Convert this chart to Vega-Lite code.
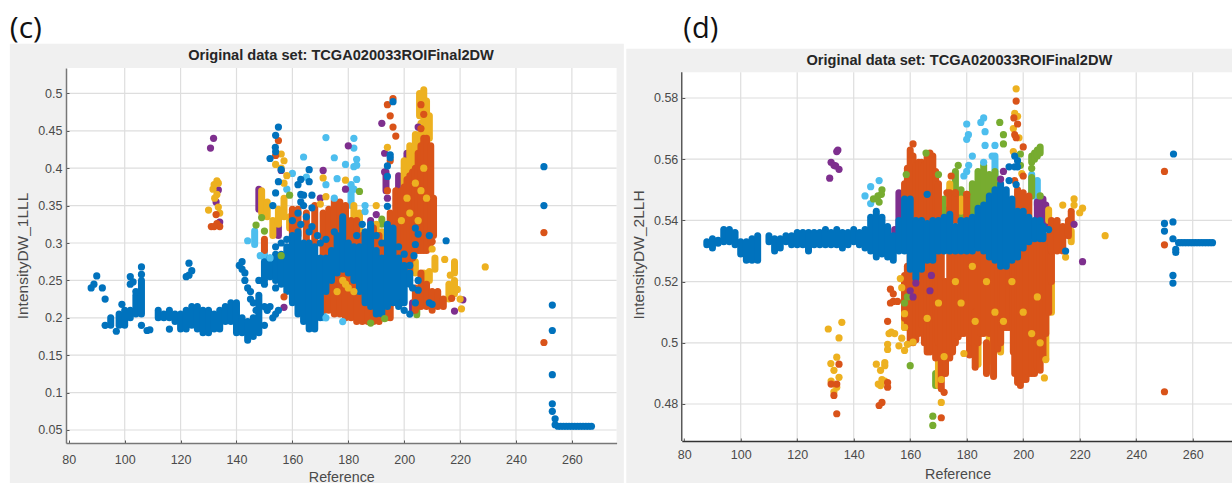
{
"$schema":"https://vega.github.io/schema/vega-lite/v6.json",
"padding":0,
"background":"white",
"spacing":64.8,
"config":{"view":{"stroke":null},"axis":{"grid":false,"labelFont":"Liberation Sans","titleFont":"Liberation Sans","labelFontSize":12.5,"titleFontSize":14.3,"titleFontWeight":"normal","labelColor":"#4a4a4a","titleColor":"#4a4a4a","tickColor":"#555555","tickSize":-3,"labelPadding":7,"domainColor":"#777777","domainWidth":1.5}},
"datasets":{
"cS":[
{"x":181,"lo":0.35,"hi":0.375,"s":"6"},{"x":146.5,"lo":0.298,"hi":0.316,"s":"6"},{"x":150,"lo":0.28,"hi":0.29,"s":"6"},{"x":156,"lo":0.25,"hi":0.27,"s":"6"},{"x":171,"lo":0.2,"hi":0.22,"s":"6"},
{"x":192,"lo":0.325,"hi":0.332,"s":"5"},{"x":204.5,"lo":0.204,"hi":0.212,"s":"5"},
{"x":148,"lo":0.345,"hi":0.372,"s":"4"},{"x":193.5,"lo":0.37,"hi":0.395,"s":"4"},{"x":198,"lo":0.33,"hi":0.39,"s":"4"},{"x":201,"lo":0.38,"hi":0.42,"s":"4"},{"x":188,"lo":0.31,"hi":0.33,"s":"4"},{"x":155,"lo":0.31,"hi":0.33,"s":"4"},{"x":192,"lo":0.2,"hi":0.21,"s":"4"},{"x":203,"lo":0.21,"hi":0.22,"s":"4"},
{"x":149,"lo":0.34,"hi":0.37,"s":"3"},{"x":151,"lo":0.335,"hi":0.355,"s":"3"},{"x":153,"lo":0.31,"hi":0.33,"s":"3"},{"x":155,"lo":0.325,"hi":0.345,"s":"3"},{"x":157,"lo":0.335,"hi":0.36,"s":"3"},{"x":159,"lo":0.32,"hi":0.335,"s":"3"},{"x":182,"lo":0.32,"hi":0.35,"s":"3"},{"x":184,"lo":0.31,"hi":0.34,"s":"3"},{"x":190,"lo":0.295,"hi":0.325,"s":"3"},{"x":192,"lo":0.3,"hi":0.315,"s":"3"},{"x":194,"lo":0.2,"hi":0.215,"s":"3"},{"x":200,"lo":0.36,"hi":0.41,"s":"3"},{"x":202,"lo":0.38,"hi":0.43,"s":"3"},{"x":204,"lo":0.39,"hi":0.445,"s":"3"},{"x":206,"lo":0.4,"hi":0.46,"s":"3"},{"x":207,"lo":0.42,"hi":0.505,"s":"3"},{"x":205.5,"lo":0.47,"hi":0.5,"s":"3"},{"x":208,"lo":0.43,"hi":0.49,"s":"3"},{"x":209,"lo":0.44,"hi":0.47,"s":"3"},{"x":204,"lo":0.26,"hi":0.275,"s":"3"},{"x":207,"lo":0.24,"hi":0.26,"s":"3"},{"x":209,"lo":0.25,"hi":0.262,"s":"3"},{"x":211,"lo":0.265,"hi":0.28,"s":"3"},{"x":218,"lo":0.26,"hi":0.275,"s":"3"},{"x":216,"lo":0.225,"hi":0.245,"s":"3"},{"x":218,"lo":0.232,"hi":0.25,"s":"3"},
{"x":160,"lo":0.3,"hi":0.345,"s":"2"},{"x":162,"lo":0.31,"hi":0.345,"s":"2"},{"x":165,"lo":0.3,"hi":0.34,"s":"2"},{"x":168,"lo":0.3,"hi":0.35,"s":"2"},{"x":171,"lo":0.21,"hi":0.34,"s":"2"},{"x":173,"lo":0.21,"hi":0.345,"s":"2"},{"x":175,"lo":0.205,"hi":0.358,"s":"2"},{"x":177,"lo":0.205,"hi":0.355,"s":"2"},{"x":179,"lo":0.2,"hi":0.35,"s":"2"},{"x":181,"lo":0.2,"hi":0.33,"s":"2"},{"x":183,"lo":0.195,"hi":0.33,"s":"2"},{"x":185,"lo":0.195,"hi":0.31,"s":"2"},{"x":187,"lo":0.195,"hi":0.3,"s":"2"},{"x":189,"lo":0.195,"hi":0.32,"s":"2"},{"x":191,"lo":0.195,"hi":0.31,"s":"2"},{"x":193,"lo":0.2,"hi":0.3,"s":"2"},{"x":195,"lo":0.2,"hi":0.34,"s":"2"},{"x":197,"lo":0.22,"hi":0.37,"s":"2"},{"x":198,"lo":0.24,"hi":0.365,"s":"2"},{"x":199,"lo":0.24,"hi":0.37,"s":"2"},{"x":200,"lo":0.25,"hi":0.375,"s":"2"},{"x":201,"lo":0.25,"hi":0.385,"s":"2"},{"x":202,"lo":0.26,"hi":0.39,"s":"2"},{"x":203,"lo":0.28,"hi":0.395,"s":"2"},{"x":204,"lo":0.29,"hi":0.4,"s":"2"},{"x":205,"lo":0.29,"hi":0.42,"s":"2"},{"x":206,"lo":0.29,"hi":0.43,"s":"2"},{"x":207,"lo":0.29,"hi":0.44,"s":"2"},{"x":208,"lo":0.29,"hi":0.44,"s":"2"},{"x":209.5,"lo":0.3,"hi":0.43,"s":"2"},{"x":210.5,"lo":0.31,"hi":0.36,"s":"2"},{"x":204,"lo":0.21,"hi":0.24,"s":"2"},{"x":206,"lo":0.215,"hi":0.26,"s":"2"},{"x":208,"lo":0.215,"hi":0.245,"s":"2"},{"x":210,"lo":0.21,"hi":0.235,"s":"2"},{"x":212,"lo":0.215,"hi":0.235,"s":"2"},{"x":214,"lo":0.215,"hi":0.225,"s":"2"},{"x":150,"lo":0.29,"hi":0.305,"s":"2"},
{"x":150,"lo":0.25,"hi":0.275,"s":"1"},{"x":152,"lo":0.255,"hi":0.28,"s":"1"},{"x":154,"lo":0.25,"hi":0.285,"s":"1"},{"x":156,"lo":0.245,"hi":0.285,"s":"1"},{"x":158,"lo":0.235,"hi":0.295,"s":"1"},{"x":160,"lo":0.22,"hi":0.31,"s":"1"},{"x":162,"lo":0.205,"hi":0.315,"s":"1"},{"x":164,"lo":0.195,"hi":0.3,"s":"1"},{"x":166,"lo":0.185,"hi":0.3,"s":"1"},{"x":168,"lo":0.185,"hi":0.295,"s":"1"},{"x":170,"lo":0.2,"hi":0.28,"s":"1"},{"x":172,"lo":0.235,"hi":0.28,"s":"1"},{"x":174,"lo":0.25,"hi":0.29,"s":"1"},{"x":176,"lo":0.26,"hi":0.31,"s":"1"},{"x":178,"lo":0.265,"hi":0.335,"s":"1"},{"x":180,"lo":0.26,"hi":0.3,"s":"1"},{"x":182,"lo":0.25,"hi":0.295,"s":"1"},{"x":184,"lo":0.235,"hi":0.295,"s":"1"},{"x":186,"lo":0.22,"hi":0.315,"s":"1"},{"x":188,"lo":0.215,"hi":0.325,"s":"1"},{"x":190,"lo":0.205,"hi":0.29,"s":"1"},{"x":192,"lo":0.205,"hi":0.28,"s":"1"},{"x":194,"lo":0.215,"hi":0.325,"s":"1"},{"x":196,"lo":0.22,"hi":0.32,"s":"1"},{"x":198,"lo":0.215,"hi":0.28,"s":"1"},{"x":200,"lo":0.22,"hi":0.27,"s":"1"},{"x":202,"lo":0.245,"hi":0.26,"s":"1"},
{"x":95,"lo":0.19,"hi":0.2,"s":"1"},{"x":98,"lo":0.19,"hi":0.205,"s":"1"},{"x":100,"lo":0.19,"hi":0.21,"s":"1"},{"x":102,"lo":0.2,"hi":0.21,"s":"1"},{"x":104,"lo":0.205,"hi":0.23,"s":"1"},{"x":106,"lo":0.205,"hi":0.25,"s":"1"},
{"x":112,"lo":0.2,"hi":0.21,"s":"1"},{"x":114,"lo":0.2,"hi":0.205,"s":"1"},{"x":116,"lo":0.2,"hi":0.21,"s":"1"},{"x":118,"lo":0.195,"hi":0.205,"s":"1"},{"x":120,"lo":0.185,"hi":0.205,"s":"1"},{"x":122,"lo":0.185,"hi":0.21,"s":"1"},{"x":124,"lo":0.19,"hi":0.215,"s":"1"},{"x":126,"lo":0.185,"hi":0.215,"s":"1"},{"x":128,"lo":0.18,"hi":0.21,"s":"1"},{"x":130,"lo":0.18,"hi":0.21,"s":"1"},{"x":132,"lo":0.185,"hi":0.205,"s":"1"},{"x":134,"lo":0.185,"hi":0.21,"s":"1"},{"x":136,"lo":0.195,"hi":0.215,"s":"1"},{"x":138,"lo":0.195,"hi":0.22,"s":"1"},{"x":140,"lo":0.18,"hi":0.22,"s":"1"},{"x":142,"lo":0.18,"hi":0.2,"s":"1"},{"x":144,"lo":0.17,"hi":0.195,"s":"1"},{"x":146,"lo":0.175,"hi":0.2,"s":"1"},{"x":148,"lo":0.18,"hi":0.23,"s":"1"}
],
"cP":[
{"x":144,"y":0.303,"s":"6"},{"x":148.5,"y":0.283,"s":"6"},{"x":152,"y":0.28,"s":"6"},{"x":172,"y":0.2,"s":"6"},{"x":178,"y":0.195,"s":"6"},{"x":186,"y":0.35,"s":"6"},{"x":186,"y":0.342,"s":"6"},{"x":160,"y":0.393,"s":"6"},{"x":158,"y":0.372,"s":"6"},{"x":164,"y":0.415,"s":"6"},{"x":172,"y":0.441,"s":"6"},{"x":175,"y":0.414,"s":"6"},{"x":172,"y":0.378,"s":"6"},{"x":176,"y":0.386,"s":"6"},{"x":165,"y":0.388,"s":"6"},{"x":175,"y":0.36,"s":"6"},{"x":182,"y":0.44,"s":"6"},{"x":182,"y":0.427,"s":"6"},{"x":183,"y":0.412,"s":"6"},{"x":179,"y":0.405,"s":"6"},{"x":182,"y":0.402,"s":"6"},{"x":183,"y":0.404,"s":"6"},{"x":183,"y":0.385,"s":"6"},{"x":181,"y":0.378,"s":"6"},{"x":182,"y":0.372,"s":"6"},
{"x":159,"y":0.364,"s":"5"},{"x":184,"y":0.369,"s":"5"},{"x":149,"y":0.334,"s":"5"},{"x":147,"y":0.324,"s":"5"},{"x":150,"y":0.316,"s":"5"},{"x":156,"y":0.283,"s":"5"},{"x":188,"y":0.193,"s":"5"},{"x":193,"y":0.199,"s":"5"},
{"x":131.8,"y":0.44,"s":"4"},{"x":130.7,"y":0.427,"s":"4"},{"x":133.5,"y":0.371,"s":"4"},{"x":132.7,"y":0.355,"s":"4"},{"x":134,"y":0.328,"s":"4"},{"x":192,"y":0.46,"s":"4"},{"x":205,"y":0.455,"s":"4"},{"x":193,"y":0.42,"s":"4"},{"x":193,"y":0.395,"s":"4"},{"x":194,"y":0.36,"s":"4"},{"x":156,"y":0.397,"s":"4"},{"x":171,"y":0.397,"s":"4"},{"x":170,"y":0.36,"s":"4"},{"x":180,"y":0.43,"s":"4"},{"x":179,"y":0.372,"s":"4"},{"x":190,"y":0.338,"s":"4"},{"x":157,"y":0.214,"s":"4"},{"x":221,"y":0.224,"s":"4"},{"x":218,"y":0.209,"s":"4"},
{"x":133,"y":0.383,"s":"3"},{"x":131.6,"y":0.372,"s":"3"},{"x":132.2,"y":0.36,"s":"3"},{"x":130,"y":0.344,"s":"3"},{"x":133.5,"y":0.38,"s":"3"},{"x":134,"y":0.34,"s":"3"},{"x":133.5,"y":0.348,"s":"3"},{"x":132,"y":0.378,"s":"3"},{"x":133,"y":0.365,"s":"3"},{"x":194,"y":0.428,"s":"3"},{"x":156,"y":0.419,"s":"3"},{"x":157,"y":0.41,"s":"3"},{"x":154,"y":0.405,"s":"3"},{"x":156,"y":0.4,"s":"3"},{"x":158,"y":0.39,"s":"3"},{"x":157,"y":0.38,"s":"3"},{"x":171,"y":0.387,"s":"3"},{"x":172,"y":0.362,"s":"3"},{"x":170,"y":0.352,"s":"3"},{"x":179,"y":0.384,"s":"3"},{"x":190,"y":0.35,"s":"3"},{"x":210,"y":0.292,"s":"3"},{"x":214.5,"y":0.278,"s":"3"},{"x":216.5,"y":0.257,"s":"3"},{"x":219,"y":0.238,"s":"3"},{"x":220,"y":0.225,"s":"3"},{"x":220.5,"y":0.212,"s":"3"},{"x":229,"y":0.268,"s":"3"},
{"x":204,"y":0.38,"s":"3"},{"x":206,"y":0.37,"s":"3"},{"x":208,"y":0.36,"s":"3"},{"x":202,"y":0.34,"s":"3"},{"x":205,"y":0.33,"s":"3"},{"x":199,"y":0.33,"s":"3"},{"x":207,"y":0.4,"s":"3"},{"x":201,"y":0.36,"s":"3"},{"x":178,"y":0.25,"s":"3"},{"x":180,"y":0.24,"s":"3"},{"x":182,"y":0.235,"s":"3"},{"x":179,"y":0.245,"s":"3"},{"x":176,"y":0.235,"s":"3"},
{"x":131,"y":0.322,"s":"2"},{"x":133,"y":0.326,"s":"2"},{"x":134,"y":0.322,"s":"2"},{"x":132.7,"y":0.338,"s":"2"},{"x":132,"y":0.322,"s":"2"},{"x":196,"y":0.493,"s":"2"},{"x":194,"y":0.485,"s":"2"},{"x":195,"y":0.47,"s":"2"},{"x":196,"y":0.455,"s":"2"},{"x":197,"y":0.443,"s":"2"},{"x":206,"y":0.485,"s":"2"},{"x":207,"y":0.472,"s":"2"},{"x":206,"y":0.453,"s":"2"},{"x":195,"y":0.41,"s":"2"},{"x":194,"y":0.37,"s":"2"},{"x":155,"y":0.437,"s":"2"},{"x":154,"y":0.417,"s":"2"},{"x":210,"y":0.302,"s":"2"},{"x":217,"y":0.226,"s":"2"},{"x":157,"y":0.228,"s":"2"},{"x":250,"y":0.314,"s":"2"},{"x":250,"y":0.167,"s":"2"},
{"x":196,"y":0.489,"s":"1"},{"x":195,"y":0.418,"s":"1"},{"x":195,"y":0.414,"s":"1"},{"x":194,"y":0.403,"s":"1"},{"x":194,"y":0.389,"s":"1"},{"x":194,"y":0.349,"s":"1"},{"x":155,"y":0.455,"s":"1"},{"x":154,"y":0.444,"s":"1"},{"x":153.9,"y":0.428,"s":"1"},{"x":154,"y":0.422,"s":"1"},{"x":152,"y":0.413,"s":"1"},{"x":156,"y":0.398,"s":"1"},{"x":155,"y":0.382,"s":"1"},{"x":154,"y":0.367,"s":"1"},{"x":153,"y":0.35,"s":"1"},{"x":166,"y":0.398,"s":"1"},{"x":162,"y":0.378,"s":"1"},{"x":163,"y":0.385,"s":"1"},{"x":166,"y":0.382,"s":"1"},{"x":163,"y":0.365,"s":"1"},{"x":164,"y":0.364,"s":"1"},{"x":167,"y":0.364,"s":"1"},{"x":163,"y":0.355,"s":"1"},{"x":167,"y":0.347,"s":"1"},{"x":164,"y":0.35,"s":"1"},{"x":160,"y":0.33,"s":"1"},{"x":162,"y":0.34,"s":"1"},{"x":165,"y":0.335,"s":"1"},{"x":167,"y":0.322,"s":"1"},{"x":204,"y":0.32,"s":"1"},{"x":205,"y":0.312,"s":"1"},{"x":209,"y":0.31,"s":"1"},{"x":215,"y":0.303,"s":"1"},{"x":204,"y":0.298,"s":"1"},{"x":203.5,"y":0.283,"s":"1"},{"x":205,"y":0.25,"s":"1"},{"x":205,"y":0.237,"s":"1"},{"x":204,"y":0.22,"s":"1"},{"x":209,"y":0.22,"s":"1"},{"x":210,"y":0.218,"s":"1"},{"x":202,"y":0.205,"s":"1"},{"x":200,"y":0.21,"s":"1"},
{"x":172,"y":0.305,"s":"1"},{"x":175,"y":0.315,"s":"1"},{"x":169,"y":0.31,"s":"1"},{"x":170,"y":0.3,"s":"1"},{"x":183,"y":0.31,"s":"1"},{"x":185,"y":0.325,"s":"1"},{"x":190,"y":0.31,"s":"1"},{"x":192,"y":0.3,"s":"1"},{"x":198,"y":0.295,"s":"1"},{"x":200,"y":0.285,"s":"1"},{"x":202,"y":0.27,"s":"1"},{"x":163,"y":0.325,"s":"1"},{"x":166,"y":0.315,"s":"1"},{"x":158,"y":0.305,"s":"1"},{"x":156,"y":0.3,"s":"1"},{"x":154,"y":0.295,"s":"1"},{"x":203,"y":0.24,"s":"1"},{"x":199,"y":0.22,"s":"1"},
{"x":88,"y":0.24,"s":"1"},{"x":89,"y":0.245,"s":"1"},{"x":90,"y":0.256,"s":"1"},{"x":92,"y":0.24,"s":"1"},{"x":93,"y":0.225,"s":"1"},{"x":93,"y":0.19,"s":"1"},{"x":97,"y":0.182,"s":"1"},{"x":99,"y":0.218,"s":"1"},{"x":102,"y":0.255,"s":"1"},{"x":102,"y":0.245,"s":"1"},{"x":103,"y":0.248,"s":"1"},{"x":104,"y":0.235,"s":"1"},{"x":106,"y":0.268,"s":"1"},{"x":106,"y":0.258,"s":"1"},{"x":106,"y":0.19,"s":"1"},{"x":108,"y":0.183,"s":"1"},{"x":109,"y":0.184,"s":"1"},{"x":116,"y":0.185,"s":"1"},{"x":122,"y":0.255,"s":"1"},{"x":123,"y":0.273,"s":"1"},{"x":124,"y":0.263,"s":"1"},{"x":123,"y":0.257,"s":"1"},
{"x":141,"y":0.27,"s":"1"},{"x":142,"y":0.275,"s":"1"},{"x":142,"y":0.265,"s":"1"},{"x":143,"y":0.26,"s":"1"},{"x":143,"y":0.25,"s":"1"},{"x":144,"y":0.24,"s":"1"},{"x":145,"y":0.235,"s":"1"},{"x":145,"y":0.225,"s":"1"},{"x":146,"y":0.22,"s":"1"},{"x":147,"y":0.21,"s":"1"},{"x":148,"y":0.25,"s":"1"},{"x":150,"y":0.245,"s":"1"},{"x":150,"y":0.215,"s":"1"},{"x":150,"y":0.19,"s":"1"},{"x":151,"y":0.21,"s":"1"},{"x":152,"y":0.215,"s":"1"},{"x":153,"y":0.2,"s":"1"},{"x":154,"y":0.24,"s":"1"},{"x":154,"y":0.205,"s":"1"},{"x":155,"y":0.21,"s":"1"},
{"x":250,"y":0.402,"s":"1"},{"x":250,"y":0.35,"s":"1"},{"x":253,"y":0.217,"s":"1"},{"x":253,"y":0.183,"s":"1"},{"x":253,"y":0.124,"s":"1"},{"x":253,"y":0.085,"s":"1"},{"x":253,"y":0.075,"s":"1"},{"x":254,"y":0.065,"s":"1"},{"x":254,"y":0.057,"s":"1"},{"x":255,"y":0.055,"s":"1"},{"x":256,"y":0.055,"s":"1"},{"x":257,"y":0.055,"s":"1"},{"x":258,"y":0.055,"s":"1"},{"x":259,"y":0.055,"s":"1"},{"x":260,"y":0.055,"s":"1"},{"x":261,"y":0.055,"s":"1"},{"x":262,"y":0.055,"s":"1"},{"x":263,"y":0.055,"s":"1"},{"x":264,"y":0.055,"s":"1"},{"x":265,"y":0.055,"s":"1"},{"x":266,"y":0.055,"s":"1"},{"x":267,"y":0.055,"s":"1"}
],
"dS":[
{"x":203,"lo":0.548,"hi":0.555,"s":"6"},{"x":205,"lo":0.545,"hi":0.553,"s":"6"},{"x":190,"lo":0.553,"hi":0.561,"s":"6"},
{"x":172,"lo":0.538,"hi":0.547,"s":"5"},{"x":174,"lo":0.54,"hi":0.55,"s":"5"},{"x":176,"lo":0.54,"hi":0.556,"s":"5"},{"x":178,"lo":0.54,"hi":0.55,"s":"5"},{"x":180,"lo":0.54,"hi":0.545,"s":"5"},{"x":182,"lo":0.54,"hi":0.552,"s":"5"},{"x":184,"lo":0.54,"hi":0.556,"s":"5"},{"x":186,"lo":0.54,"hi":0.558,"s":"5"},{"x":188,"lo":0.54,"hi":0.555,"s":"5"},{"x":190,"lo":0.54,"hi":0.556,"s":"5"},{"x":192,"lo":0.54,"hi":0.55,"s":"5"},{"x":203,"lo":0.559,"hi":0.561,"s":"5"},{"x":204,"lo":0.56,"hi":0.562,"s":"5"},{"x":205,"lo":0.561,"hi":0.563,"s":"5"},{"x":206,"lo":0.562,"hi":0.564,"s":"5"},{"x":203,"lo":0.548,"hi":0.554,"s":"5"},{"x":169,"lo":0.486,"hi":0.49,"s":"5"},
{"x":205,"lo":0.537,"hi":0.546,"s":"4"},{"x":207,"lo":0.537,"hi":0.547,"s":"4"},{"x":208,"lo":0.538,"hi":0.545,"s":"4"},{"x":156,"lo":0.535,"hi":0.549,"s":"4"},{"x":154.5,"lo":0.535,"hi":0.537,"s":"4"},
{"x":209,"lo":0.54,"hi":0.5435,"s":"3"},{"x":217,"lo":0.533,"hi":0.5365,"s":"3"},{"x":184,"lo":0.493,"hi":0.503,"s":"3"},{"x":188,"lo":0.494,"hi":0.51,"s":"3"},{"x":192,"lo":0.497,"hi":0.505,"s":"3"},{"x":208,"lo":0.495,"hi":0.51,"s":"3"},{"x":210,"lo":0.51,"hi":0.52,"s":"3"},{"x":158,"lo":0.505,"hi":0.52,"s":"3"},{"x":170,"lo":0.486,"hi":0.5,"s":"3"},{"x":174,"lo":0.545,"hi":0.552,"s":"3"},{"x":178,"lo":0.543,"hi":0.547,"s":"3"},
{"x":158,"lo":0.508,"hi":0.522,"s":"2"},{"x":159,"lo":0.505,"hi":0.525,"s":"2"},{"x":160,"lo":0.5,"hi":0.53,"s":"2"},{"x":161,"lo":0.5,"hi":0.53,"s":"2"},{"x":162,"lo":0.501,"hi":0.53,"s":"2"},{"x":163,"lo":0.503,"hi":0.53,"s":"2"},{"x":164,"lo":0.506,"hi":0.53,"s":"2"},{"x":165,"lo":0.5,"hi":0.53,"s":"2"},{"x":166,"lo":0.497,"hi":0.53,"s":"2"},{"x":167,"lo":0.497,"hi":0.53,"s":"2"},{"x":168,"lo":0.498,"hi":0.53,"s":"2"},{"x":169,"lo":0.495,"hi":0.53,"s":"2"},{"x":170,"lo":0.5,"hi":0.53,"s":"2"},{"x":171,"lo":0.485,"hi":0.53,"s":"2"},{"x":172.5,"lo":0.49,"hi":0.52,"s":"2"},{"x":174,"lo":0.495,"hi":0.53,"s":"2"},{"x":175,"lo":0.497,"hi":0.53,"s":"2"},{"x":176,"lo":0.5,"hi":0.535,"s":"2"},{"x":177,"lo":0.502,"hi":0.535,"s":"2"},{"x":178,"lo":0.503,"hi":0.535,"s":"2"},{"x":179,"lo":0.503,"hi":0.535,"s":"2"},{"x":180,"lo":0.504,"hi":0.535,"s":"2"},{"x":181,"lo":0.496,"hi":0.535,"s":"2"},{"x":182,"lo":0.5,"hi":0.535,"s":"2"},{"x":183,"lo":0.492,"hi":0.51,"s":"2"},{"x":184,"lo":0.5,"hi":0.535,"s":"2"},{"x":185,"lo":0.503,"hi":0.535,"s":"2"},{"x":186,"lo":0.503,"hi":0.535,"s":"2"},{"x":187,"lo":0.49,"hi":0.5,"s":"2"},{"x":188,"lo":0.503,"hi":0.53,"s":"2"},{"x":189.5,"lo":0.489,"hi":0.53,"s":"2"},{"x":191,"lo":0.498,"hi":0.53,"s":"2"},{"x":192,"lo":0.5,"hi":0.53,"s":"2"},{"x":193,"lo":0.505,"hi":0.525,"s":"2"},{"x":194,"lo":0.505,"hi":0.525,"s":"2"},{"x":195,"lo":0.505,"hi":0.53,"s":"2"},{"x":196.5,"lo":0.497,"hi":0.535,"s":"2"},{"x":197,"lo":0.49,"hi":0.535,"s":"2"},{"x":198,"lo":0.487,"hi":0.535,"s":"2"},{"x":199,"lo":0.486,"hi":0.535,"s":"2"},{"x":200,"lo":0.488,"hi":0.535,"s":"2"},{"x":201,"lo":0.488,"hi":0.535,"s":"2"},{"x":202,"lo":0.49,"hi":0.535,"s":"2"},{"x":203,"lo":0.49,"hi":0.535,"s":"2"},{"x":204,"lo":0.49,"hi":0.535,"s":"2"},{"x":205,"lo":0.492,"hi":0.535,"s":"2"},{"x":206,"lo":0.491,"hi":0.535,"s":"2"},{"x":207,"lo":0.495,"hi":0.535,"s":"2"},{"x":208,"lo":0.503,"hi":0.53,"s":"2"},{"x":209,"lo":0.51,"hi":0.535,"s":"2"},{"x":210,"lo":0.52,"hi":0.535,"s":"2"},
{"x":158,"lo":0.54,"hi":0.552,"s":"2"},{"x":159,"lo":0.54,"hi":0.557,"s":"2"},{"x":160,"lo":0.54,"hi":0.563,"s":"2"},{"x":161,"lo":0.54,"hi":0.561,"s":"2"},{"x":162,"lo":0.54,"hi":0.558,"s":"2"},{"x":163,"lo":0.54,"hi":0.559,"s":"2"},{"x":164,"lo":0.54,"hi":0.559,"s":"2"},{"x":165,"lo":0.54,"hi":0.558,"s":"2"},{"x":166,"lo":0.54,"hi":0.561,"s":"2"},{"x":167,"lo":0.54,"hi":0.562,"s":"2"},{"x":168,"lo":0.54,"hi":0.561,"s":"2"},{"x":169,"lo":0.54,"hi":0.556,"s":"2"},{"x":170,"lo":0.54,"hi":0.552,"s":"2"},{"x":174,"lo":0.542,"hi":0.549,"s":"2"},{"x":176,"lo":0.54,"hi":0.549,"s":"2"},{"x":180,"lo":0.54,"hi":0.5485,"s":"2"},{"x":198,"lo":0.54,"hi":0.55,"s":"2"},{"x":200,"lo":0.54,"hi":0.549,"s":"2"},{"x":202,"lo":0.54,"hi":0.548,"s":"2"},{"x":210,"lo":0.53,"hi":0.54,"s":"2"},{"x":212,"lo":0.53,"hi":0.54,"s":"2"},{"x":214,"lo":0.53,"hi":0.538,"s":"2"},{"x":216,"lo":0.535,"hi":0.54,"s":"2"},{"x":217,"lo":0.54,"hi":0.543,"s":"2"},
{"x":88,"lo":0.532,"hi":0.533,"s":"1"},{"x":90,"lo":0.531,"hi":0.534,"s":"1"},{"x":92,"lo":0.5325,"hi":0.5335,"s":"1"},{"x":94,"lo":0.533,"hi":0.537,"s":"1"},{"x":96,"lo":0.533,"hi":0.537,"s":"1"},{"x":98,"lo":0.532,"hi":0.536,"s":"1"},{"x":100,"lo":0.529,"hi":0.533,"s":"1"},{"x":102,"lo":0.527,"hi":0.533,"s":"1"},{"x":104,"lo":0.527,"hi":0.534,"s":"1"},{"x":106,"lo":0.527,"hi":0.535,"s":"1"},{"x":110,"lo":0.533,"hi":0.535,"s":"1"},{"x":112,"lo":0.53,"hi":0.534,"s":"1"},{"x":114,"lo":0.531,"hi":0.534,"s":"1"},{"x":116,"lo":0.533,"hi":0.535,"s":"1"},{"x":118,"lo":0.532,"hi":0.535,"s":"1"},{"x":120,"lo":0.532,"hi":0.536,"s":"1"},{"x":122,"lo":0.532,"hi":0.536,"s":"1"},{"x":124,"lo":0.53,"hi":0.536,"s":"1"},{"x":126,"lo":0.532,"hi":0.536,"s":"1"},{"x":128,"lo":0.532,"hi":0.536,"s":"1"},{"x":130,"lo":0.532,"hi":0.537,"s":"1"},{"x":132,"lo":0.532,"hi":0.536,"s":"1"},{"x":134,"lo":0.532,"hi":0.537,"s":"1"},{"x":136,"lo":0.531,"hi":0.536,"s":"1"},{"x":138,"lo":0.532,"hi":0.536,"s":"1"},{"x":140,"lo":0.533,"hi":0.537,"s":"1"},{"x":142,"lo":0.532,"hi":0.536,"s":"1"},{"x":144,"lo":0.531,"hi":0.537,"s":"1"},{"x":146,"lo":0.53,"hi":0.541,"s":"1"},{"x":148,"lo":0.528,"hi":0.543,"s":"1"},{"x":150,"lo":0.529,"hi":0.541,"s":"1"},{"x":152,"lo":0.528,"hi":0.538,"s":"1"},{"x":154,"lo":0.527,"hi":0.535,"s":"1"},{"x":156,"lo":0.53,"hi":0.54,"s":"1"},{"x":158,"lo":0.53,"hi":0.547,"s":"1"},{"x":160,"lo":0.524,"hi":0.547,"s":"1"},{"x":162,"lo":0.521,"hi":0.54,"s":"1"},{"x":164,"lo":0.524,"hi":0.54,"s":"1"},{"x":166,"lo":0.527,"hi":0.539,"s":"1"},{"x":168,"lo":0.527,"hi":0.54,"s":"1"},{"x":170,"lo":0.53,"hi":0.54,"s":"1"},{"x":172,"lo":0.53,"hi":0.541,"s":"1"},{"x":174,"lo":0.53,"hi":0.542,"s":"1"},{"x":176,"lo":0.53,"hi":0.538,"s":"1"},{"x":178,"lo":0.53,"hi":0.54,"s":"1"},{"x":180,"lo":0.53,"hi":0.54,"s":"1"},{"x":182,"lo":0.53,"hi":0.541,"s":"1"},{"x":184,"lo":0.531,"hi":0.544,"s":"1"},{"x":186,"lo":0.53,"hi":0.545,"s":"1"},{"x":188,"lo":0.528,"hi":0.548,"s":"1"},{"x":190,"lo":0.527,"hi":0.55,"s":"1"},{"x":192,"lo":0.525,"hi":0.552,"s":"1"},{"x":194,"lo":0.525,"hi":0.55,"s":"1"},{"x":196,"lo":0.527,"hi":0.547,"s":"1"},{"x":198,"lo":0.528,"hi":0.543,"s":"1"},{"x":200,"lo":0.531,"hi":0.543,"s":"1"},{"x":202,"lo":0.533,"hi":0.541,"s":"1"},{"x":204,"lo":0.534,"hi":0.54,"s":"1"},{"x":206,"lo":0.534,"hi":0.54,"s":"1"},{"x":207,"lo":0.534,"hi":0.538,"s":"1"}
],
"dP":[
{"x":180,"y":0.5715,"s":"6"},{"x":180.6,"y":0.568,"s":"6"},{"x":180,"y":0.5665,"s":"6"},{"x":186,"y":0.5735,"s":"6"},{"x":185,"y":0.572,"s":"6"},{"x":186.5,"y":0.569,"s":"6"},{"x":186.5,"y":0.5645,"s":"6"},{"x":190,"y":0.5645,"s":"6"},{"x":182,"y":0.561,"s":"6"},{"x":180.7,"y":0.558,"s":"6"},{"x":180,"y":0.556,"s":"6"},{"x":179,"y":0.5545,"s":"6"},{"x":189,"y":0.561,"s":"6"},{"x":186,"y":0.559,"s":"6"},{"x":149,"y":0.553,"s":"6"},{"x":146,"y":0.551,"s":"6"},{"x":144,"y":0.548,"s":"6"},{"x":146,"y":0.5455,"s":"6"},
{"x":191.7,"y":0.572,"s":"5"},{"x":193,"y":0.568,"s":"5"},{"x":193,"y":0.565,"s":"5"},{"x":199,"y":0.5617,"s":"5"},{"x":199,"y":0.558,"s":"5"},{"x":203,"y":0.557,"s":"5"},{"x":206,"y":0.548,"s":"5"},{"x":150,"y":0.55,"s":"5"},{"x":149.8,"y":0.5485,"s":"5"},{"x":148.6,"y":0.548,"s":"5"},{"x":147,"y":0.547,"s":"5"},{"x":149,"y":0.546,"s":"5"},{"x":165.6,"y":0.562,"s":"5"},{"x":170,"y":0.555,"s":"5"},{"x":158.6,"y":0.555,"s":"5"},{"x":177,"y":0.558,"s":"5"},{"x":160,"y":0.4925,"s":"5"},{"x":168,"y":0.476,"s":"5"},{"x":168,"y":0.473,"s":"5"},{"x":159,"y":0.515,"s":"5"},{"x":158,"y":0.513,"s":"5"},
{"x":134.4,"y":0.563,"s":"4"},{"x":134,"y":0.5625,"s":"4"},{"x":132,"y":0.559,"s":"4"},{"x":133,"y":0.558,"s":"4"},{"x":133.6,"y":0.5578,"s":"4"},{"x":134.8,"y":0.5567,"s":"4"},{"x":131.5,"y":0.5538,"s":"4"},{"x":221,"y":0.5265,"s":"4"},{"x":218,"y":0.5387,"s":"4"},{"x":160,"y":0.517,"s":"4"},{"x":161,"y":0.515,"s":"4"},{"x":162,"y":0.5195,"s":"4"},{"x":167.5,"y":0.522,"s":"4"},{"x":167,"y":0.517,"s":"4"},{"x":193,"y":0.556,"s":"4"},{"x":192,"y":0.5535,"s":"4"},
{"x":197.5,"y":0.583,"s":"3"},{"x":197,"y":0.575,"s":"3"},{"x":198,"y":0.574,"s":"3"},{"x":196.5,"y":0.57,"s":"3"},{"x":198.5,"y":0.567,"s":"3"},{"x":196.5,"y":0.5625,"s":"3"},{"x":199.5,"y":0.5553,"s":"3"},{"x":214,"y":0.545,"s":"3"},{"x":218,"y":0.547,"s":"3"},{"x":218,"y":0.545,"s":"3"},{"x":221,"y":0.544,"s":"3"},{"x":220,"y":0.5425,"s":"3"},{"x":229,"y":0.535,"s":"3"},{"x":215,"y":0.528,"s":"3"},
{"x":148,"y":0.493,"s":"3"},{"x":151,"y":0.4925,"s":"3"},{"x":149.5,"y":0.491,"s":"3"},{"x":150,"y":0.488,"s":"3"},{"x":148.7,"y":0.4865,"s":"3"},{"x":149.5,"y":0.486,"s":"3"},{"x":151,"y":0.4875,"s":"3"},{"x":151,"y":0.4935,"s":"3"},{"x":152,"y":0.4995,"s":"3"},{"x":152,"y":0.4978,"s":"3"},{"x":153.3,"y":0.5035,"s":"3"},{"x":154.5,"y":0.503,"s":"3"},{"x":152.5,"y":0.503,"s":"3"},{"x":157,"y":0.5015,"s":"3"},{"x":156,"y":0.499,"s":"3"},{"x":158,"y":0.4975,"s":"3"},{"x":159,"y":0.4995,"s":"3"},{"x":161,"y":0.5002,"s":"3"},{"x":158,"y":0.505,"s":"3"},{"x":158,"y":0.5095,"s":"3"},{"x":157,"y":0.518,"s":"3"},{"x":156.5,"y":0.521,"s":"3"},{"x":179,"y":0.4965,"s":"3"},{"x":171,"y":0.4805,"s":"3"},{"x":171,"y":0.488,"s":"3"},{"x":207.5,"y":0.4885,"s":"3"},{"x":208,"y":0.4945,"s":"3"},{"x":172,"y":0.4955,"s":"3"},{"x":131,"y":0.5045,"s":"3"},{"x":135.8,"y":0.5067,"s":"3"},{"x":134.8,"y":0.5016,"s":"3"},{"x":134,"y":0.4953,"s":"3"},{"x":131.9,"y":0.4932,"s":"3"},{"x":133,"y":0.491,"s":"3"},{"x":134.8,"y":0.4887,"s":"3"},{"x":132,"y":0.4875,"s":"3"},{"x":134,"y":0.4855,"s":"3"},{"x":133,"y":0.484,"s":"3"},
{"x":178,"y":0.513,"s":"3"},{"x":183,"y":0.507,"s":"3"},{"x":190,"y":0.51,"s":"3"},{"x":187,"y":0.52,"s":"3"},{"x":170,"y":0.513,"s":"3"},{"x":200,"y":0.51,"s":"3"},{"x":205,"y":0.515,"s":"3"},{"x":196,"y":0.52,"s":"3"},{"x":193,"y":0.507,"s":"3"},{"x":203,"y":0.503,"s":"3"},{"x":176,"y":0.52,"s":"3"},{"x":182,"y":0.525,"s":"3"},{"x":166,"y":0.508,"s":"3"},{"x":206,"y":0.5,"s":"3"},
{"x":197.5,"y":0.579,"s":"2"},{"x":196.7,"y":0.5735,"s":"2"},{"x":198,"y":0.5715,"s":"2"},{"x":197,"y":0.568,"s":"2"},{"x":197.5,"y":0.567,"s":"2"},{"x":200,"y":0.564,"s":"2"},{"x":200,"y":0.5545,"s":"2"},{"x":197,"y":0.553,"s":"2"},{"x":161,"y":0.565,"s":"2"},{"x":174.5,"y":0.5545,"s":"2"},{"x":173,"y":0.549,"s":"2"},{"x":176,"y":0.549,"s":"2"},{"x":180,"y":0.5485,"s":"2"},{"x":152,"y":0.507,"s":"2"},{"x":153,"y":0.5175,"s":"2"},{"x":154,"y":0.516,"s":"2"},{"x":153,"y":0.513,"s":"2"},{"x":154,"y":0.5135,"s":"2"},{"x":155.5,"y":0.5135,"s":"2"},{"x":152,"y":0.4855,"s":"2"},{"x":152,"y":0.487,"s":"2"},{"x":150,"y":0.4805,"s":"2"},{"x":149,"y":0.4795,"s":"2"},{"x":171,"y":0.4755,"s":"2"},{"x":172,"y":0.4838,"s":"2"},{"x":134.8,"y":0.493,"s":"2"},{"x":132,"y":0.4865,"s":"2"},{"x":134,"y":0.4865,"s":"2"},{"x":133,"y":0.4828,"s":"2"},{"x":134,"y":0.4768,"s":"2"},{"x":250,"y":0.556,"s":"2"},{"x":250,"y":0.532,"s":"2"},{"x":250,"y":0.484,"s":"2"},
{"x":197,"y":0.561,"s":"1"},{"x":198,"y":0.5595,"s":"1"},{"x":195,"y":0.5575,"s":"1"},{"x":197,"y":0.5575,"s":"1"},{"x":198,"y":0.5575,"s":"1"},{"x":197.5,"y":0.5517,"s":"1"},{"x":195,"y":0.553,"s":"1"},{"x":166,"y":0.5485,"s":"1"},{"x":209,"y":0.537,"s":"1"},{"x":215,"y":0.53,"s":"1"},{"x":253.2,"y":0.5617,"s":"1"},{"x":250,"y":0.539,"s":"1"},{"x":250,"y":0.5365,"s":"1"},{"x":253,"y":0.5395,"s":"1"},{"x":253,"y":0.534,"s":"1"},{"x":253,"y":0.522,"s":"1"},{"x":253,"y":0.5195,"s":"1"},{"x":254,"y":0.5295,"s":"1"},{"x":254,"y":0.5305,"s":"1"},
{"x":255,"y":0.5327,"s":"1"},{"x":256,"y":0.5327,"s":"1"},{"x":257,"y":0.5327,"s":"1"},{"x":258,"y":0.5327,"s":"1"},{"x":259,"y":0.5327,"s":"1"},{"x":260,"y":0.5327,"s":"1"},{"x":261,"y":0.5327,"s":"1"},{"x":262,"y":0.5327,"s":"1"},{"x":263,"y":0.5327,"s":"1"},{"x":264,"y":0.5327,"s":"1"},{"x":265,"y":0.5327,"s":"1"},{"x":266,"y":0.5327,"s":"1"},{"x":267,"y":0.5327,"s":"1"}
]
},
"hconcat":[
{"width":550.6,"height":375,
"layer":[
{"data":{"values":[{"x":55.71,"x2":279.2,"y":0.6239,"y2":-0.0218}]},"mark":{"type":"rect","fill":"white"},
 "encoding":{"x":{"field":"x","type":"quantitative","scale":{"domain":[79,276],"nice":false,"zero":false}},"x2":{"field":"x2"},"y":{"field":"y","type":"quantitative","scale":{"domain":[0.0326,0.534],"nice":false,"zero":false}},"y2":{"field":"y2"}}},
{"data":{"values":[{"x":58.9,"x2":278.6,"y":0.5664,"y2":-0.0218}]},"mark":{"type":"rect","fill":"#f0f0f0"},
 "encoding":{"x":{"field":"x","type":"quantitative"},"x2":{"field":"x2"},"y":{"field":"y","type":"quantitative"},"y2":{"field":"y2"}}},
{"data":{"values":[{"x":79,"x2":276,"y":0.534,"y2":0.0326}]},"mark":{"type":"rect","fill":"white"},
 "encoding":{"x":{"field":"x","type":"quantitative"},"x2":{"field":"x2"},"y":{"field":"y","type":"quantitative"},"y2":{"field":"y2"}}},
{"data":{"values":[{"v":100},{"v":120},{"v":140},{"v":160},{"v":180},{"v":200},{"v":220},{"v":240},{"v":260}]},"mark":{"type":"rule","color":"#dedede","strokeWidth":1.2},"encoding":{"x":{"field":"v","type":"quantitative"}}},
{"data":{"values":[{"v":0.05},{"v":0.1},{"v":0.15},{"v":0.2},{"v":0.25},{"v":0.3},{"v":0.35},{"v":0.4},{"v":0.45},{"v":0.5}]},"mark":{"type":"rule","color":"#dedede","strokeWidth":1.2},"encoding":{"y":{"field":"v","type":"quantitative"}}},
{"data":{"name":"cS"},"mark":{"type":"rule","strokeWidth":7,"strokeCap":"round"},
 "encoding":{"x":{"field":"x","type":"quantitative"},"y":{"field":"lo","type":"quantitative"},"y2":{"field":"hi"},"color":{"field":"s","type":"nominal","legend":null,"scale":{"domain":["1","2","3","4","5","6"],"range":["#0072BD","#D95319","#EDB120","#7E2F8E","#77AC30","#4DBEEE"]}}}},
{"data":{"name":"cP"},"mark":{"type":"point","filled":true,"opacity":1,"size":52},
 "encoding":{"x":{"field":"x","type":"quantitative"},"y":{"field":"y","type":"quantitative"},"color":{"field":"s","type":"nominal","legend":null}}},
{"data":{"values":[{"x":79,"y":0.3}]},"mark":{"type":"point","opacity":0},
 "encoding":{"x":{"field":"x","type":"quantitative","axis":{"title":"Reference","values":[80,100,120,140,160,180,200,220,240,260],"zindex":1,"labelPadding":13,"titlePadding":5}},"y":{"field":"y","type":"quantitative","axis":{"title":"IntensityDW_1LLL","values":[0.05,0.1,0.15,0.2,0.25,0.3,0.35,0.4,0.45,0.5],"format":"~g","zindex":1,"titlePadding":7,"titleFontSize":15.5}}}},
{"data":{"values":[{"x":177.4,"y":0.5504,"t":"Original data set: TCGA020033ROIFinal2DW"}]},"mark":{"type":"text","font":"Liberation Sans","fontWeight":"bold","fontSize":14.6,"color":"#262626"},
 "encoding":{"x":{"field":"x","type":"quantitative"},"y":{"field":"y","type":"quantitative"},"text":{"field":"t"}}},
{"data":{"values":[{"x":58.9,"y":0.5865,"t":"(c)"}]},"mark":{"type":"text","font":"Open Sans","fontSize":30,"align":"left","color":"#111111"},
 "encoding":{"x":{"field":"x","type":"quantitative"},"y":{"field":"y","type":"quantitative"},"text":{"field":"t"}}}
]},
{"width":551.6,"height":373,
"layer":[
{"data":{"values":[{"x":59.5,"x2":274.4,"y":0.5961,"y2":0.454}]},"mark":{"type":"rect","fill":"#f0f0f0"},
 "encoding":{"x":{"field":"x","type":"quantitative","scale":{"domain":[79.15,274.4],"nice":false,"zero":false}},"x2":{"field":"x2"},"y":{"field":"y","type":"quantitative","scale":{"domain":[0.4679,0.5898],"nice":false,"zero":false}},"y2":{"field":"y2"}}},
{"data":{"values":[{"x":79.15,"x2":274.4,"y":0.5884,"y2":0.4679}]},"mark":{"type":"rect","fill":"white"},
 "encoding":{"x":{"field":"x","type":"quantitative"},"x2":{"field":"x2"},"y":{"field":"y","type":"quantitative"},"y2":{"field":"y2"}}},
{"data":{"values":[{"v":100},{"v":120},{"v":140},{"v":160},{"v":180},{"v":200},{"v":220},{"v":240},{"v":260}]},"mark":{"type":"rule","color":"#dedede","strokeWidth":1.2},"encoding":{"x":{"field":"v","type":"quantitative"},"y":{"datum":0.5884},"y2":{"datum":0.4679}}},
{"data":{"values":[{"v":0.48},{"v":0.5},{"v":0.52},{"v":0.54},{"v":0.56},{"v":0.58}]},"mark":{"type":"rule","color":"#dedede","strokeWidth":1.2},"encoding":{"y":{"field":"v","type":"quantitative"}}},
{"data":{"name":"dS"},"mark":{"type":"rule","strokeWidth":7,"strokeCap":"round"},
 "encoding":{"x":{"field":"x","type":"quantitative"},"y":{"field":"lo","type":"quantitative"},"y2":{"field":"hi"},"color":{"field":"s","type":"nominal","legend":null,"scale":{"domain":["1","2","3","4","5","6"],"range":["#0072BD","#D95319","#EDB120","#7E2F8E","#77AC30","#4DBEEE"]}}}},
{"data":{"name":"dP"},"mark":{"type":"point","filled":true,"opacity":1,"size":52},
 "encoding":{"x":{"field":"x","type":"quantitative"},"y":{"field":"y","type":"quantitative"},"color":{"field":"s","type":"nominal","legend":null}}},
{"data":{"values":[{"x":79.15,"y":0.5884,"y2":0.4679}]},"mark":{"type":"rule","color":"#333333","strokeWidth":1.2},"encoding":{"x":{"field":"x","type":"quantitative"},"y":{"field":"y","type":"quantitative"},"y2":{"field":"y2"}}},
{"data":{"values":[{"x":79.15,"y":0.5}]},"mark":{"type":"point","opacity":0},
 "encoding":{"x":{"field":"x","type":"quantitative","axis":{"title":"Reference","values":[80,100,120,140,160,180,200,220,240,260],"zindex":1,"labelPadding":10,"titlePadding":7,"domainColor":"#333333"}},"y":{"field":"y","type":"quantitative","axis":{"title":"IntensityDW_2LLH","values":[0.48,0.5,0.52,0.54,0.56,0.58],"format":"~g","zindex":1,"domain":false,"titlePadding":7,"titleFontSize":15.5}}}},
{"data":{"values":[{"x":177.4,"y":0.5922,"t":"Original data set: TCGA020033ROIFinal2DW"}]},"mark":{"type":"text","font":"Liberation Sans","fontWeight":"bold","fontSize":14.6,"color":"#262626"},
 "encoding":{"x":{"field":"x","type":"quantitative"},"y":{"field":"y","type":"quantitative"},"text":{"field":"t"}}},
{"data":{"values":[{"x":79.7,"y":0.6026,"t":"(d)"}]},"mark":{"type":"text","font":"Open Sans","fontSize":29,"align":"left","color":"#111111"},
 "encoding":{"x":{"field":"x","type":"quantitative"},"y":{"field":"y","type":"quantitative"},"text":{"field":"t"}}}
]}
],
"bounds":"flush",
"resolve":{"scale":{"color":"shared"}}
}
